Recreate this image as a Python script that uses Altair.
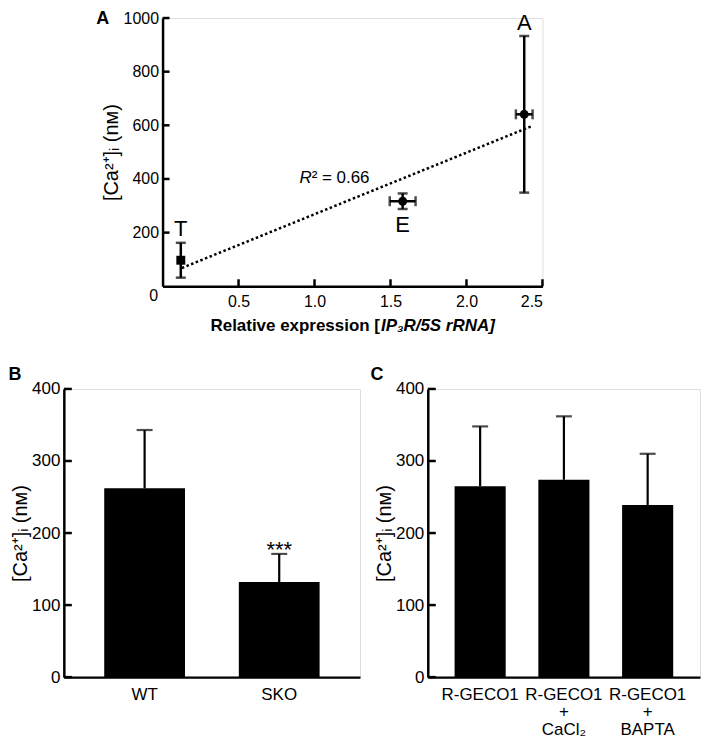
import altair as alt
import pandas as pd

FONT = "Liberation Sans"

# ---------------- Panel A data ----------------
a_group = ["T", "E", "A"]
a_expr = [0.12, 1.58, 2.38]
a_expr_err = [0.0, 0.085, 0.055]
a_ca = [97, 317, 641]
a_ca_err = [65, 29, 292]
a_shape = ["square", "circle", "circle"]
a_label_x = [0.12, 1.58, 2.38]
a_label_y = [212, 227, 982]
fit_x = [0.127, 2.43]
fit_y = [68, 597]
a_yticks = [200, 400, 600, 800, 1000]
a_xticks = [0.5, 1.0, 1.5, 2.0, 2.5]
r2_pos = [0.981, 403]

# ---------------- Panel B data ----------------
b_cats = ["WT", "SKO"]
b_mean = [262, 132]
b_err = [81, 39]

# ---------------- Panel C data ----------------
c_cats = ["R-GECO1", "R-GECO1|+|CaCl₂", "R-GECO1|+|BAPTA"]
c_mean = [265, 274, 239]
c_err = [83, 88, 71]

bc_yticks = [0, 100, 200, 300, 400]
ytitle = "[Ca²⁺]ᵢ (nᴍ)"

# ================= Panel A =================
AW, AH = 381, 269
dfA = pd.DataFrame({"g": a_group, "x": a_expr, "xe": a_expr_err, "y": a_ca,
                    "ye": a_ca_err, "shape": a_shape, "lx": a_label_x, "ly": a_label_y})
dfA["ylo"] = dfA["y"] - dfA["ye"]
dfA["yhi"] = dfA["y"] + dfA["ye"]
dfA["xlo"] = dfA["x"] - dfA["xe"]
dfA["xhi"] = dfA["x"] + dfA["xe"]

scAx = alt.Scale(domain=[0, 2.5], nice=False, zero=False)
scAy = alt.Scale(domain=[0, 1000], nice=False)
axAx = alt.Axis(values=a_xticks, format=".1f", title=None, ticks=False, labelPadding=7,
                labelFontSize=16, grid=False)
axAy = alt.Axis(values=a_yticks, format="d", title=ytitle, ticks=False, labelPadding=4,
                labelFontSize=16, titleFontSize=20, titlePadding=2, grid=False)

baseA = alt.Chart(dfA)
yerr = baseA.mark_rule(strokeWidth=2.5, color="black").encode(
    x=alt.X("x:Q", scale=scAx, axis=axAx), y=alt.Y("ylo:Q", scale=scAy, axis=axAy), y2="yhi:Q")
ycaps = baseA.transform_fold(["ylo", "yhi"], as_=["k", "v"]).mark_tick(
    orient="horizontal", size=10, thickness=2.5, color="black").encode(
    x=alt.X("x:Q", scale=scAx, axis=axAx), y=alt.Y("v:Q", scale=scAy, axis=axAy))
xerr = baseA.transform_filter("datum.xe > 0").mark_rule(strokeWidth=2.5, color="black").encode(
    x=alt.X("xlo:Q", scale=scAx, axis=axAx), x2="xhi:Q", y=alt.Y("y:Q", scale=scAy, axis=axAy))
xcaps = baseA.transform_filter("datum.xe > 0").transform_fold(["xlo", "xhi"], as_=["k", "v"]).mark_tick(
    orient="vertical", size=10, thickness=2.5, color="black").encode(
    x=alt.X("v:Q", scale=scAx, axis=axAx), y=alt.Y("y:Q", scale=scAy, axis=axAy))
pts = baseA.mark_point(filled=True, size=80, opacity=1, color="black").encode(
    x=alt.X("x:Q", scale=scAx, axis=axAx), y=alt.Y("y:Q", scale=scAy, axis=axAy),
    shape=alt.Shape("shape:N", scale=None))
labs = baseA.mark_text(fontSize=22, color="black", baseline="middle").encode(
    x=alt.X("lx:Q", scale=scAx, axis=axAx), y=alt.Y("ly:Q", scale=scAy, axis=axAy), text="g:N")

dfFit = pd.DataFrame({"x": fit_x, "y": fit_y})
fit = alt.Chart(dfFit).mark_line(strokeDash=[2.5, 2.5], strokeWidth=2.5, color="black").encode(
    x=alt.X("x:Q", scale=scAx, axis=axAx), y=alt.Y("y:Q", scale=scAy, axis=axAy))

dfR = pd.DataFrame({"x": [r2_pos[0]], "y": [r2_pos[1]]})
r_it = alt.Chart(dfR).mark_text(text="R", fontStyle="italic", fontSize=17, align="right",
                                baseline="middle", color="black").encode(
    x=alt.X("x:Q", scale=scAx, axis=axAx), y=alt.Y("y:Q", scale=scAy, axis=axAy))
r_rest = alt.Chart(dfR).mark_text(text="² = 0.66", fontSize=17, align="left",
                                  baseline="middle", color="black").encode(
    x=alt.X("x:Q", scale=scAx, axis=axAx), y=alt.Y("y:Q", scale=scAy, axis=axAy))

dfZero = pd.DataFrame({"x": [0], "y": [0], "t": ["0"]})
zero = alt.Chart(dfZero).mark_text(fontSize=16, dx=-9, dy=10, baseline="middle", color="black").encode(
    x=alt.X("x:Q", scale=scAx, axis=axAx), y=alt.Y("y:Q", scale=scAy, axis=axAy), text="t:N")

dfAyt = pd.DataFrame({"v": a_yticks})
aytk = alt.Chart(dfAyt).mark_rule(strokeWidth=2.5, color="black").encode(
    y=alt.Y("v:Q", scale=scAy, axis=axAy), x=alt.value(0), x2=alt.value(7))
dfAxt = pd.DataFrame({"v": a_xticks})
axtk = alt.Chart(dfAxt).mark_rule(strokeWidth=2.5, color="black").encode(
    x=alt.X("v:Q", scale=scAx, axis=axAx), y=alt.value(AH), y2=alt.value(AH - 7))

one = pd.DataFrame({"d": [0]})
letterA = alt.Chart(one).mark_text(text="A", fontSize=18, fontWeight="bold", color="black",
                                   baseline="middle").encode(x=alt.value(-60), y=alt.value(1))
xt1 = alt.Chart(one).mark_text(text="Relative expression [", fontSize=17, fontWeight="bold",
                               align="right", baseline="middle", color="black").encode(
    x=alt.value(218), y=alt.value(309))
xt2 = alt.Chart(one).mark_text(text="IP₃R/5S rRNA]", fontSize=17, fontWeight="bold",
                               fontStyle="italic", align="left", baseline="middle",
                               color="black").encode(x=alt.value(219), y=alt.value(309))

chartA = alt.layer(yerr, ycaps, xerr, xcaps, fit, pts, labs, r_it, r_rest, zero,
                   aytk, axtk, letterA, xt1, xt2).properties(width=AW, height=AH)

# ================= Bar panels =================
def bar_panel(cats, means, errs, width, pin, pout, letter, letter_x, stars=None, multiline=False):
    df = pd.DataFrame({"c": cats, "m": means, "e": errs})
    df["hi"] = df["m"] + df["e"]
    sx = alt.Scale(domain=cats, paddingInner=pin, paddingOuter=pout)
    sy = alt.Scale(domain=[0, 400], nice=False)
    axx = alt.Axis(title=None, ticks=False, labelAngle=0, labelFontSize=17, labelPadding=9,
                   labelLineHeight=18, grid=False,
                   labelExpr="split(datum.label, '|')" if multiline else "datum.label")
    axy = alt.Axis(values=bc_yticks, title=ytitle, ticks=False, labelPadding=4, labelFontSize=17,
                   titleFontSize=20, titlePadding=1, grid=False)
    base = alt.Chart(df)
    X = alt.X("c:N", scale=sx, axis=axx, sort=cats)
    bars = base.mark_bar(color="black").encode(x=X, y=alt.Y("m:Q", scale=sy, axis=axy))
    err = base.mark_rule(strokeWidth=2.2, color="black").encode(
        x=X, y=alt.Y("m:Q", scale=sy, axis=axy), y2="hi:Q")
    cap = base.mark_tick(orient="horizontal", size=16, thickness=2.2, color="black").encode(
        x=X, y=alt.Y("hi:Q", scale=sy, axis=axy))
    tk = alt.Chart(pd.DataFrame({"v": bc_yticks})).mark_rule(strokeWidth=2.5, color="black").encode(
        y=alt.Y("v:Q", scale=sy, axis=axy), x=alt.value(0), x2=alt.value(8))
    let = alt.Chart(one).mark_text(text=letter, fontSize=18, fontWeight="bold", color="black",
                                   baseline="middle").encode(x=alt.value(letter_x), y=alt.value(-14))
    layers = [bars, err, cap, tk, let]
    if stars is not None:
        st = base.transform_filter(alt.datum.c == stars).mark_text(
            text="***", fontSize=22, baseline="alphabetic", dy=3, color="black").encode(
            x=X, y=alt.Y("hi:Q", scale=sy, axis=axy))
        layers.append(st)
    return alt.layer(*layers).properties(width=width, height=289)

chartB = bar_panel(b_cats, b_mean, b_err, 297, 0.4, 0.3, "B", -49, stars="SKO")
chartC = bar_panel(c_cats, c_mean, c_err, 273, 0.39, 0.32, "C", -51, multiline=True)

# blank spacer: in the vertical stack the plot origins line up, so this shifts panel A right
spacer = alt.Chart(one).mark_text(text="", opacity=0).encode(
    x=alt.value(0), y=alt.value(0)).properties(
    width=32, height=20,
    view=alt.ViewBackground(stroke="transparent", strokeWidth=0, fill="transparent"))

top = alt.hconcat(spacer, chartA, spacing=0)
bottom = alt.hconcat(chartB, chartC, spacing=9)

chart = alt.vconcat(top, bottom, spacing=30).properties(padding=0).configure_view(
    stroke="transparent", strokeWidth=0).configure(font=FONT).configure_axis(
    domainColor="black", domainWidth=2.5, labelColor="black", titleColor="black",
    titleFontWeight="normal", labelFont=FONT, titleFont=FONT)

chart.save("out.html", embed_options={"renderer": "svg", "actions": False})
